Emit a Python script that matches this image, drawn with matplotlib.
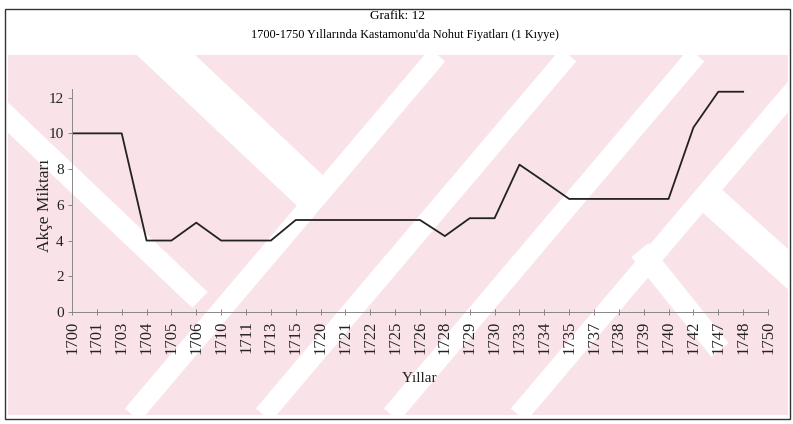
import numpy as np
import matplotlib
matplotlib.use("Agg")
import matplotlib.pyplot as plt
from matplotlib.patches import Rectangle, Polygon

plt.rcParams["font.family"] = ["Liberation Serif", "DejaVu Serif"]

years = ["1700", "1701", "1703", "1704", "1705", "1706", "1710", "1711", "1713", "1715",
         "1720", "1721", "1722", "1725", "1726", "1728", "1729", "1730", "1733", "1734",
         "1735", "1737", "1738", "1739", "1740", "1742", "1747", "1748", "1750"]
akce = [10, 10, 10, 4, 4, 5, 4, 4, 4, 5.15,
        5.15, 5.15, 5.15, 5.15, 5.15, 4.25, 5.25, 5.25, 8.25, 7.3,
        6.33, 6.33, 6.33, 6.33, 6.33, 10.33, 12.33, 12.33, np.nan]

W, H = 793, 424
fig = plt.figure(figsize=(W / 100, H / 100), dpi=100)

# background watermark (pink bands), in pixel coords
bg = fig.add_axes([0, 0, 1, 1], zorder=0)
bg.set_xlim(0, W)
bg.set_ylim(H, 0)
bg.axis("off")
pink = Rectangle((8, 55), 780, 360, facecolor="#f9e3e8", edgecolor="none")
bg.add_patch(pink)

def stripe(p0, p1, w):
    d = np.array(p1, float) - np.array(p0, float)
    n = np.array([-d[1], d[0]]) / np.hypot(*d) * w / 2
    pts = [np.array(p0) + n, np.array(p1) + n, np.array(p1) - n, np.array(p0) - n]
    poly = Polygon(pts, facecolor="white", edgecolor="none")
    bg.add_patch(poly)
    poly.set_clip_path(pink)

# "/" bands through the middle
for x0 in [196, 327, 455, 582]:
    stripe((x0 - 75 / 1.18, 415), (x0 + 285 / 1.18, 55), 20)
# "\" bands on the left and lower right
stripe((0, 110), (200, 300), 22)
stripe((150, 40), (320, 200), 40)
stripe((640, 250), (720, 350), 22)
stripe((700, 190), (800, 280), 30)

# outer frame
bg.add_patch(Rectangle((5, 9), 785, 410, facecolor="none", edgecolor="#333333", linewidth=1.0))

ax = fig.add_axes([72 / W, 1 - 312 / H, (768 - 72) / W, (312 - 88.7) / H], zorder=1)
ax.patch.set_alpha(0)
x = np.arange(len(years))
ax.plot(x, akce, color="#222222", linewidth=1.3)

ax.set_xlim(0, len(years) - 1)
ax.set_ylim(0, 12.5)
ax.set_yticks(range(0, 13, 2))
ax.set_xticks(x)
ax.set_xticklabels(years, rotation=90, fontsize=12, color="#222222")
ax.tick_params(axis="y", labelsize=11, labelcolor="#222222", length=3, width=0.6, color="#777777", pad=3)
ax.tick_params(axis="x", direction="inout", length=4, width=0.6, color="#777777", pad=4)
for s in ["top", "right"]:
    ax.spines[s].set_visible(False)
for s in ["left", "bottom"]:
    ax.spines[s].set_color("#888888")
    ax.spines[s].set_linewidth(0.7)

ax.set_ylabel("Akçe Miktarı", fontsize=12.5, color="#222222")
ax.yaxis.set_label_coords(-0.028, 0.479)
ax.set_xlabel("Yıllar", fontsize=11, color="#222222")
ax.xaxis.set_label_coords(0.5, -0.27)

fig.text(397 / W, 1 - 16 / H, "Grafik: 12", ha="center", va="center", fontsize=9.5)
fig.text(405 / W, 1 - 35 / H, "1700-1750 Yıllarında Kastamonu'da Nohut Fiyatları (1 Kıyye)",
         ha="center", va="center", fontsize=8.8)

fig.savefig("out.png", dpi=100)
